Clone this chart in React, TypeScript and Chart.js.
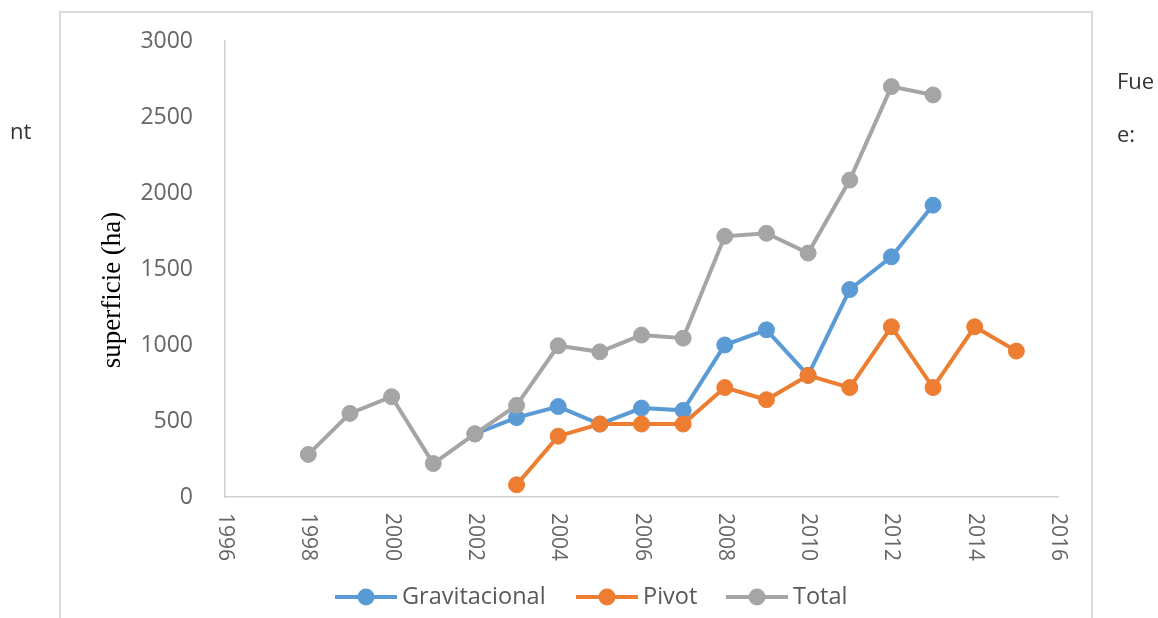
import React, { useEffect, useRef } from "react";
import { Chart, registerables } from "chart.js";

Chart.register(...registerables);

const years = [1998, 1999, 2000, 2001, 2002, 2003, 2004, 2005, 2006, 2007, 2008, 2009, 2010, 2011, 2012, 2013, 2014, 2015];
const gravitacional = [null, null, null, null, 415, 522, 595, 480, 585, 570, 1000, 1100, 800, 1365, 1580, 1920, null, null];
const pivot = [null, null, null, null, null, 80, 400, 480, 480, 480, 720, 640, 800, 720, 1120, 720, 1120, 960];
const total = [280, 550, 660, 220, 415, 603, 995, 955, 1065, 1045, 1715, 1735, 1605, 2085, 2700, 2645, null, null];
const xTicks = [1996, 1998, 2000, 2002, 2004, 2006, 2008, 2010, 2012, 2014, 2016];
const seriesNames = ["Gravitacional", "Pivot", "Total"];
const seriesColors = ["#5b9bd5", "#ed7d31", "#a5a5a5"];
const yTitle = "superficie (ha)";

const toPoints = (vals: (number | null)[]) =>
  years.map((y, i) => ({ x: y, y: vals[i] })).filter((p) => p.y !== null);

export default function App() {
  const ref = useRef<HTMLCanvasElement | null>(null);

  useEffect(() => {
    if (!ref.current) return;
    const customDraw = {
      id: "customDraw",
      afterDraw(chart: any) {
        const ctx = chart.ctx;
        const xs = chart.scales.x;
        ctx.save();
        // x tick labels rotated clockwise
        ctx.fillStyle = "#666666";
        ctx.font = "21px 'Open Sans'";
        ctx.textAlign = "left";
        ctx.textBaseline = "middle";
        for (const v of xTicks) {
          const px = xs.getPixelForValue(v);
          ctx.save();
          ctx.translate(px, 513);
          ctx.rotate(Math.PI / 2);
          ctx.fillText(String(v), 0, 0);
          ctx.restore();
        }
        // y title
        ctx.save();
        ctx.fillStyle = "#000000";
        ctx.font = "27px 'Liberation Serif'";
        ctx.textAlign = "center";
        ctx.textBaseline = "middle";
        ctx.translate(113, 290);
        ctx.rotate(-Math.PI / 2);
        ctx.fillText(yTitle, 0, 0);
        ctx.restore();
        // legend
        ctx.font = "23.5px 'Open Sans'";
        ctx.textBaseline = "middle";
        ctx.textAlign = "left";
        const ly = 597;
        const starts = [335, 576, 726];
        seriesNames.forEach((name, i) => {
          const sx = starts[i];
          ctx.strokeStyle = seriesColors[i];
          ctx.lineWidth = 4;
          ctx.beginPath();
          ctx.moveTo(sx, ly);
          ctx.lineTo(sx + 62, ly);
          ctx.stroke();
          ctx.fillStyle = seriesColors[i];
          ctx.beginPath();
          ctx.arc(sx + 31, ly, 8.5, 0, Math.PI * 2);
          ctx.fill();
          ctx.fillStyle = "#595959";
          ctx.fillText(name, sx + 67, ly);
        });
        ctx.restore();
      },
    };

    const datasets = [gravitacional, pivot, total].map((vals, i) => ({
      label: seriesNames[i],
      data: toPoints(vals),
      borderColor: seriesColors[i],
      backgroundColor: seriesColors[i],
      borderWidth: 4,
      pointRadius: 8,
      pointBorderWidth: 1,
      pointBorderColor: seriesColors[i],
      pointBackgroundColor: seriesColors[i],
      tension: 0,
      order: 2 - i,
    }));

    const chart = new Chart(ref.current, {
      type: "line",
      data: { datasets },
      options: {
        animation: false,
        responsive: false,
        maintainAspectRatio: false,
        layout: { padding: { left: 0, top: 41, right: 100, bottom: 0 } },
        plugins: { legend: { display: false }, tooltip: { enabled: false } },
        scales: {
          x: {
            type: "linear",
            min: 1996,
            max: 2016,
            grid: { display: false },
            border: { display: true, color: "#d0d0d0", width: 1.5 },
            ticks: { display: false, stepSize: 2 },
            afterFit: (s: any) => {
              s.height = 121;
            },
          },
          y: {
            min: 0,
            max: 3000,
            grid: { display: false },
            border: { display: true, color: "#d0d0d0", width: 1.5 },
            ticks: {
              stepSize: 500,
              padding: 24,
              color: "#666666",
              font: { family: "'Open Sans'", size: 23 },
              callback: (v: any) => String(v),
            },
            afterFit: (s: any) => {
              s.width = 225;
            },
          },
        },
      },
      plugins: [customDraw],
    });
    return () => chart.destroy();
  }, []);

  const textStyle: React.CSSProperties = {
    position: "absolute",
    fontFamily: "'Open Sans'",
    fontSize: 22,
    color: "#333",
    lineHeight: "22px",
    margin: 0,
  };

  return (
    <div style={{ position: "absolute", left: 0, top: 0, width: 1158, height: 618, overflow: "hidden", background: "#fff" }}>
      <div
        style={{
          position: "absolute",
          left: 59,
          top: 11,
          width: 1030,
          height: 640,
          border: "2px solid #d9d9d9",
        }}
      />
      <canvas ref={ref} width={1158} height={618} style={{ position: "absolute", left: 0, top: 0 }} />
      <div style={{ ...textStyle, left: 10, top: 119 }}>nt</div>
      <div style={{ ...textStyle, left: 1117, top: 69 }}>Fue</div>
      <div style={{ ...textStyle, left: 1117, top: 122 }}>e:</div>
    </div>
  );
}
